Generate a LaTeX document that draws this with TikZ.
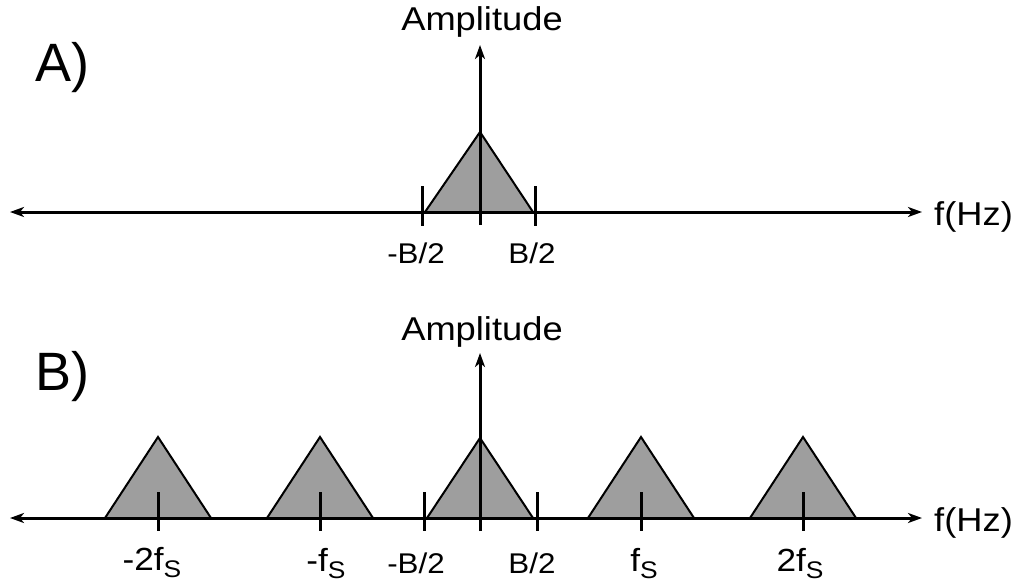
\documentclass[tikz,border=0pt]{standalone}
\usepackage{fontspec}
\setmainfont{Liberation Sans}[FakeStretch=1.1]
\newfontfamily\panelfont{Liberation Sans}
\usetikzlibrary{arrows.meta}
\definecolor{bandfill}{RGB}{158,158,158}
\tikzset{
  axisline/.style={line width=3pt, {Stealth[length=14pt,width=10pt,inset=4pt]}-{Stealth[length=14pt,width=10pt,inset=4pt]}},
  ampline/.style={line width=3pt, -{Stealth[length=14pt,width=10pt,inset=4pt]}},
  band/.style={fill=bandfill, draw=black, line width=2pt, line join=miter},
  tickline/.style={line width=3pt},
  axlabel/.style={inner sep=0pt, anchor=base, font=\fontsize{33}{38}\selectfont},
  panellabel/.style={inner sep=0pt, anchor=base west, font=\panelfont\fontsize{54}{60}\selectfont},
  blabel/.style={inner sep=0pt, anchor=base, font=\fontsize{28.5}{32}\selectfont},
  flabel/.style={inner sep=0pt, anchor=base, font=\fontsize{32}{36}\selectfont},
}
\newcommand{\subS}{\raisebox{-7pt}{\fontsize{24}{28}\selectfont S}}
\begin{document}
\begin{tikzpicture}[x=1pt,y=-1pt]
\useasboundingbox (0,0) rectangle (1024,583);

% ---------- Panel A ----------
\node[panellabel] (labA) at (35,82) {A)};
\filldraw[band] (425,212) -- (480,132) -- (533,212) -- cycle;
\coordinate (aL) at (10,212);
\coordinate (aR) at (922,212);
\coordinate (aV0) at (480,225);
\coordinate (aV1) at (480,45);
\draw[axisline] (aL) -- (aR);
\draw[ampline] (aV0) -- (aV1);
\coordinate (aT1a) at (422,186); \coordinate (aT1b) at (422,226);
\coordinate (aT2a) at (535,186); \coordinate (aT2b) at (535,226);
\draw[tickline] (aT1a) -- (aT1b);
\draw[tickline] (aT2a) -- (aT2b);
\node[axlabel] (ampA) at (482,31) {Amplitude};
\node[axlabel, anchor=base west] (fA) at (934,225) {f(Hz)};
\node[blabel] (mbA) at (416,263) {-B/2};
\node[blabel] (pbA) at (532,263) {B/2};

% ---------- Panel B ----------
\node[panellabel] (labB) at (35,390) {B)};
\foreach \c/\ay in {158/437, 320/437, 480/438, 641/437, 803/437}{
  \filldraw[band] (\c-53,518) -- (\c,\ay) -- (\c+53,518) -- cycle;
}
\coordinate (bL) at (10,518);
\coordinate (bR) at (922,518);
\coordinate (bV0) at (480,531);
\coordinate (bV1) at (480,353);
\draw[axisline] (bL) -- (bR);
\draw[ampline] (bV0) -- (bV1);
\foreach \x/\n in {158/t1, 320/t2, 424/t3, 537/t4, 641/t5, 803/t6}{
  \coordinate (b\n a) at (\x,492);
  \coordinate (b\n b) at (\x,531);
  \draw[tickline] (b\n a) -- (b\n b);
}
\node[axlabel] (ampB) at (482,340) {Amplitude};
\node[axlabel, anchor=base west] (fB) at (934,531) {f(Hz)};
\node[blabel] (mbB) at (416,573) {-B/2};
\node[blabel] (pbB) at (532,573) {B/2};
\node[flabel] (m2fs) at (152,570) {-2f\subS};
\node[flabel] (mfs) at (326,571) {-f\subS};
\node[flabel] (pfs) at (644,571) {f\subS};
\node[flabel] (p2fs) at (800,571) {2f\subS};
\end{tikzpicture}
\end{document}
